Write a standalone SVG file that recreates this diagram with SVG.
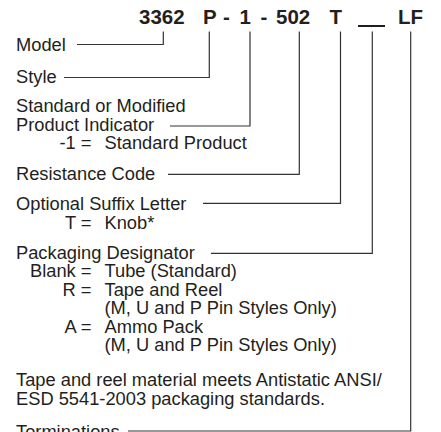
<svg xmlns="http://www.w3.org/2000/svg" width="441" height="432" viewBox="0 0 441 432">
<style>
text{font-family:"Liberation Sans",Arial,Helvetica,sans-serif;fill:#231f20}
.t{font-size:18.3px}
.h{font-size:20.5px;font-weight:bold}
.c{fill:none;stroke:#333;stroke-width:1.2}
</style>
<rect width="441" height="432" fill="#fff"/>
<g id="title">
<text class="h" x="139" y="24">3362</text>
<text class="h" x="203" y="24">P</text>
<text class="h" x="223" y="24">-</text>
<text class="h" x="239.5" y="24">1</text>
<text class="h" x="260.5" y="24">-</text>
<text class="h" x="276" y="24">502</text>
<text class="h" x="329.5" y="24">T</text>
<line x1="358" y1="26" x2="385" y2="26" stroke="#231f20" stroke-width="2"/>
<text class="h" x="398" y="24">LF</text>
</g>
<g id="connectors">
<polyline class="c" points="77,44.5 163.3,44.5 163.3,31.5"/>
<polyline class="c" points="64,77.5 209.3,77.5 209.3,31.5"/>
<polyline class="c" points="170,126 250,126 250,31.5"/>
<polyline class="c" points="168,174.3 299.3,174.3 299.3,31.5"/>
<polyline class="c" points="203,203.3 340.5,203.3 340.5,31.5"/>
<polyline class="c" points="211,253.3 372.3,253.3 372.3,31.5"/>
<polyline class="c" points="128,431 410.7,431 410.7,31.5"/>
</g>
<g id="model"><text class="t" x="16" y="51">Model</text></g>
<g id="style"><text class="t" x="16" y="83">Style</text></g>
<g id="indicator">
<text class="t" x="16" y="112">Standard or Modified</text>
<text class="t" x="16" y="130.5">Product Indicator</text>
<text class="t" x="91.5" y="149" text-anchor="end">-1 =</text>
<text class="t" x="104.5" y="149">Standard Product</text>
</g>
<g id="resistance"><text class="t" x="16" y="179.5">Resistance Code</text></g>
<g id="suffix">
<text class="t" x="16" y="209.5">Optional Suffix Letter</text>
<text class="t" x="91.5" y="228.5" text-anchor="end">T =</text>
<text class="t" x="104.5" y="228.5">Knob*</text>
</g>
<g id="packaging">
<text class="t" x="16" y="258.5">Packaging Designator</text>
<text class="t" x="91.5" y="277" text-anchor="end">Blank =</text>
<text class="t" x="104.5" y="277">Tube (Standard)</text>
<text class="t" x="91.5" y="295.5" text-anchor="end">R =</text>
<text class="t" x="104.5" y="295.5">Tape and Reel</text>
<text class="t" x="104.5" y="314">(M, U and P Pin Styles Only)</text>
<text class="t" x="91.5" y="332.5" text-anchor="end">A =</text>
<text class="t" x="104.5" y="332.5">Ammo Pack</text>
<text class="t" x="104.5" y="351">(M, U and P Pin Styles Only)</text>
</g>
<g id="note">
<text class="t" x="16" y="386">Tape and reel material meets Antistatic ANSI/</text>
<text class="t" x="16" y="405">ESD 5541-2003 packaging standards.</text>
</g>
<g id="terminations"><text class="t" x="16" y="437.5">Terminations</text></g>
</svg>
